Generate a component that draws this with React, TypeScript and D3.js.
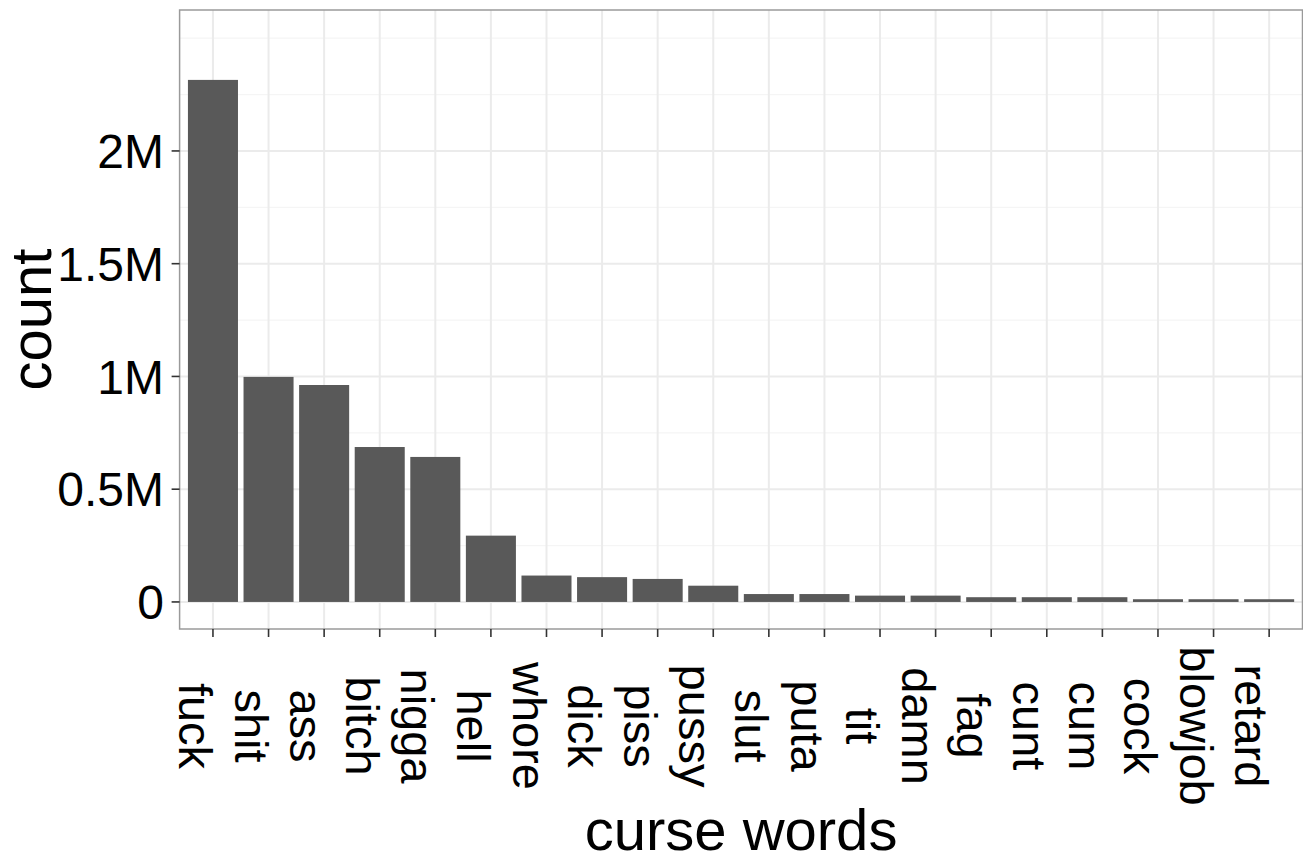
import React, { useRef, useEffect } from "react";
import * as d3 from "d3";

// word counts (millions)
const words = [
  "fuck", "shit", "ass", "bitch", "nigga", "hell", "whore", "dick", "piss", "pussy",
  "slut", "puta", "tit", "damn", "fag", "cunt", "cum", "cock", "blowjob", "retard",
];
const counts = [
  2.315, 0.998, 0.962, 0.687, 0.643, 0.294, 0.117, 0.11, 0.102, 0.072,
  0.035, 0.035, 0.028, 0.028, 0.021, 0.021, 0.021, 0.012, 0.012, 0.012,
].map((v) => v * 1e6);

const yTicks = [0, 0.5e6, 1e6, 1.5e6, 2e6];
const yTickLabels = ["0", "0.5M", "1M", "1.5M", "2M"];
const yMinor = [0.25e6, 0.75e6, 1.25e6, 1.75e6, 2.25e6, 2.5e6];

const W = 1303;
const H = 861;
const FONT = "'Liberation Sans', Arial, Helvetica, sans-serif";

const CurseChart: React.FC = () => {
  const svgRef = useRef<SVGSVGElement | null>(null);

  useEffect(() => {
    if (!svgRef.current) return;
    const svg = d3.select(svgRef.current);
    svg.selectAll("*").remove();

    const panel = { left: 179.6, right: 1302.5, top: 10, bottom: 629 };

    const x = d3
      .scaleBand()
      .domain(words)
      .range([panel.left, panel.right])
      .paddingInner(0.1)
      .paddingOuter(0.15);

    const y = d3.scaleLinear().domain([-0.12e6, 2.625e6]).range([panel.bottom, panel.top]);

    const center = (w: string) => x(w)! + x.bandwidth() / 2;

    // background
    svg.append("rect").attr("width", W).attr("height", H).attr("fill", "#fff");

    const grid = svg.append("g");
    // minor horizontal grid
    grid
      .selectAll(".minor")
      .data(yMinor)
      .join("line")
      .attr("x1", panel.left)
      .attr("x2", panel.right)
      .attr("y1", (d) => y(d))
      .attr("y2", (d) => y(d))
      .attr("stroke", "#f5f5f5")
      .attr("stroke-width", 1.2);

    // major horizontal grid
    grid
      .selectAll(".major")
      .data(yTicks)
      .join("line")
      .attr("x1", panel.left)
      .attr("x2", panel.right)
      .attr("y1", (d) => y(d))
      .attr("y2", (d) => y(d))
      .attr("stroke", "#ebebeb")
      .attr("stroke-width", 2);

    // vertical grid
    grid
      .selectAll(".vgrid")
      .data(words)
      .join("line")
      .attr("x1", (d) => center(d))
      .attr("x2", (d) => center(d))
      .attr("y1", panel.top)
      .attr("y2", panel.bottom)
      .attr("stroke", "#ebebeb")
      .attr("stroke-width", 2);

    // bars
    svg
      .selectAll(".bar")
      .data(words)
      .join("rect")
      .attr("x", (d) => x(d)!)
      .attr("width", x.bandwidth())
      .attr("y", (_, i) => y(counts[i]))
      .attr("height", (_, i) => y(0) - y(counts[i]))
      .attr("fill", "#595959");

    // panel border
    svg
      .append("rect")
      .attr("x", panel.left)
      .attr("y", panel.top)
      .attr("width", panel.right - panel.left)
      .attr("height", panel.bottom - panel.top)
      .attr("fill", "none")
      .attr("stroke", "#9a9a9a")
      .attr("stroke-width", 1.5);

    // y ticks + labels
    const yAxis = svg.append("g");
    yAxis
      .selectAll("line")
      .data(yTicks)
      .join("line")
      .attr("x1", panel.left - 8)
      .attr("x2", panel.left)
      .attr("y1", (d) => y(d))
      .attr("y2", (d) => y(d))
      .attr("stroke", "#333")
      .attr("stroke-width", 1.6);
    yAxis
      .selectAll("text")
      .data(yTicks)
      .join("text")
      .attr("x", 164)
      .attr("y", (d) => y(d))
      .attr("dy", "0.36em")
      .attr("text-anchor", "end")
      .attr("font-family", FONT)
      .attr("font-size", 48)
      .attr("fill", "#000")
      .text((_, i) => yTickLabels[i]);

    // x ticks + labels
    const xAxis = svg.append("g");
    xAxis
      .selectAll("line")
      .data(words)
      .join("line")
      .attr("x1", (d) => center(d))
      .attr("x2", (d) => center(d))
      .attr("y1", panel.bottom)
      .attr("y2", panel.bottom + 8)
      .attr("stroke", "#333")
      .attr("stroke-width", 1.6);
    xAxis
      .selectAll("text")
      .data(words)
      .join("text")
      .attr("transform", (d) => `translate(${center(d)},726) rotate(90)`)
      .attr("dy", "0.72em")
      .attr("text-anchor", "middle")
      .attr("font-family", FONT)
      .attr("font-size", 47)
      .attr("fill", "#000")
      .text((d) => d);

    // axis titles
    svg
      .append("text")
      .attr("x", (panel.left + panel.right) / 2)
      .attr("y", 850)
      .attr("text-anchor", "middle")
      .attr("font-family", FONT)
      .attr("font-size", 58)
      .attr("fill", "#000")
      .text("curse words");

    svg
      .append("text")
      .attr("transform", `translate(51,${(panel.top + panel.bottom) / 2}) rotate(-90)`)
      .attr("text-anchor", "middle")
      .attr("font-family", FONT)
      .attr("font-size", 58)
      .attr("fill", "#000")
      .text("count");
  }, []);

  return <svg ref={svgRef} width={W} height={H} style={{ display: "block" }}></svg>;
};

export default function App() {
  return (
    <div style={{ position: "absolute", left: 0, top: 0 }}>
      <CurseChart />
    </div>
  );
}
